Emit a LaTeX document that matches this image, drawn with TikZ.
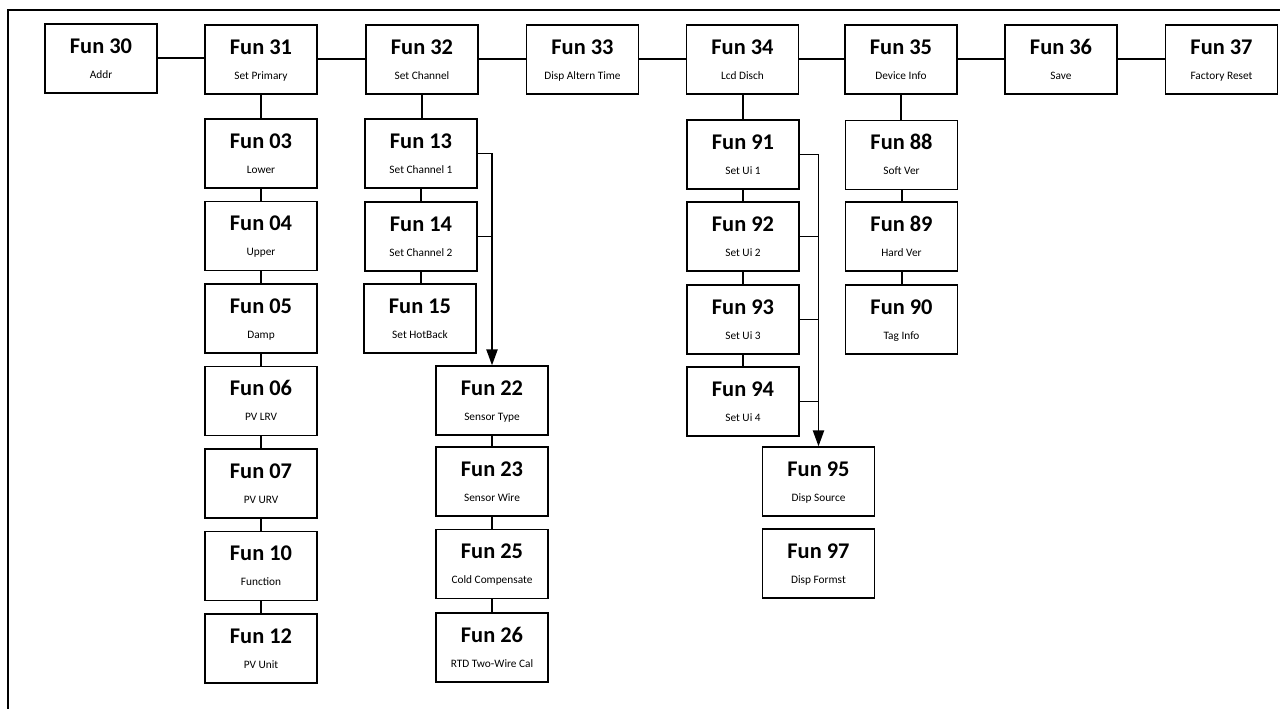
\documentclass[tikz,border=0pt]{standalone}
\usepackage{fontspec}
\setmainfont{Carlito}
\usetikzlibrary{arrows.meta,calc}

\tikzset{every picture/.style={line width=0.75pt}}
\tikzset{
  funbox/.style={draw, line width=1.1pt, minimum width=84pt, minimum height=51.75pt, inner sep=0pt},
  funtitle/.style={anchor=base, inner sep=0pt, font=\fontsize{16.8}{18}\selectfont\bfseries},
  funcap/.style={anchor=base, inner sep=0pt, font=\fontsize{8.5}{10}\selectfont},
  link/.style={line width=1.5pt},
  flow/.style={line width=1.1pt, -{Triangle[length=12pt,width=8.5pt]}}
}
% box name, centre, number, caption
\newcommand{\fnbox}[4]{%
  \node[funbox] (#1) at (#2) {};
  \node[funtitle] (#1-t) at ($(#1.north)+(0,30)$) {Fun #3};
  \node[funcap] (#1-c) at ($(#1.north)+(0,55)$) {#4};
}

\begin{document}
\begin{tikzpicture}[x=0.75pt,y=0.75pt,yscale=-1,xscale=1]
\useasboundingbox (0,0) rectangle (1280,709);

% frame
\draw [line width=0.9pt] (8,709) -- (8,10) -- (1280,10) ;

% top row
\fnbox{f30}{101,58.5}{30}{Addr}
\fnbox{f31}{261,59.5}{31}{Set Primary}
\fnbox{f32}{422,59.5}{32}{Set Channel}
\fnbox{f33}{582.5,59.5}{33}{Disp Altern Time}
\fnbox{f34}{742.5,59.5}{34}{Lcd Disch}
\fnbox{f35}{901,59.5}{35}{Device Info}
\fnbox{f36}{1061,59.5}{36}{Save}
\fnbox{f37}{1221.5,59.5}{37}{Factory Reset}

% under Fun 31
\fnbox{f03}{261,153.5}{03}{Lower}
\fnbox{f04}{261,236}{04}{Upper}
\fnbox{f05}{261,318.5}{05}{Damp}
\fnbox{f06}{261,401}{06}{PV LRV}
\fnbox{f07}{261,483.5}{07}{PV URV}
\fnbox{f10}{261,566}{10}{Function}
\fnbox{f12}{261,648.5}{12}{PV Unit}

% under Fun 32
\fnbox{f13}{421,153.5}{13}{Set Channel 1}
\fnbox{f14}{421,236.5}{14}{Set Channel 2}
\fnbox{f15}{420,318.5}{15}{Set HotBack}

\fnbox{f22}{492,400.5}{22}{Sensor Type}
\fnbox{f23}{492,481.5}{23}{Sensor Wire}
\fnbox{f25}{492,564}{25}{Cold Compensate}
\fnbox{f26}{492,647.5}{26}{RTD Two-Wire Cal}

% under Fun 34
\fnbox{f91}{743,154.5}{91}{Set Ui 1}
\fnbox{f92}{743,236.5}{92}{Set Ui 2}
\fnbox{f93}{743,319.5}{93}{Set Ui 3}
\fnbox{f94}{743,401.5}{94}{Set Ui 4}

\fnbox{f95}{818.5,481.5}{95}{Disp Source}
\fnbox{f97}{818.5,563.5}{97}{Disp Formst}

% under Fun 35
\fnbox{f88}{901.5,155}{88}{Soft Ver}
\fnbox{f89}{901.5,236.5}{89}{Hard Ver}
\fnbox{f90}{901.5,319.5}{90}{Tag Info}

% links
\foreach \a/\b in {f30/f31,f31/f32,f32/f33,f33/f34,f34/f35,f35/f36,f36/f37}
  \draw [link] (\a.east) -- (\a.east -| \b.west) ;
\foreach \a/\b in {f31/f03,f03/f04,f04/f05,f05/f06,f06/f07,f07/f10,f10/f12,
                   f32/f13,f13/f14,f14/f15,f22/f23,f23/f25,f25/f26,
                   f34/f91,f91/f92,f92/f93,f93/f94,
                   f35/f88,f88/f89,f89/f90}
  \draw [link] (\a.south) -- (\a.south |- \b.north) ;

% branches
\draw [flow] (f13.east) -| (f22.north) ;
\draw [line width=1.1pt] (f14.east) -- (f14.east -| f22.north) ;

\draw [flow] (f91.east) -| (f95.north) ;
\foreach \a in {f92,f93,f94}
  \draw [line width=1.1pt] (\a.east) -- (\a.east -| f95.north) ;

\end{tikzpicture}
\end{document}
